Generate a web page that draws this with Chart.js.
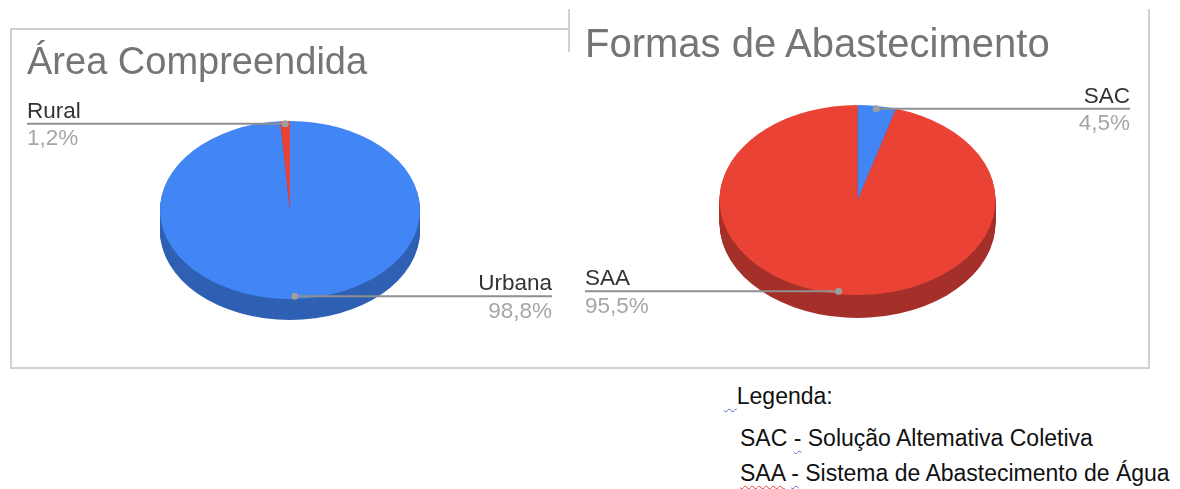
<!DOCTYPE html>
<html lang="pt-BR">
<head>
<meta charset="utf-8">
<script src="https://cdn.jsdelivr.net/npm/chart.js"></script>
<style>
  body { margin: 0; background: #fff; font-family: "Liberation Sans", Arial, sans-serif; }
  #page { position: relative; width: 1180px; height: 489px; overflow: hidden; }
  .box { position: absolute; border: 2px solid #d2d2d2; box-sizing: border-box; }
  canvas { position: absolute; }
  .title { position: absolute; color: #757575; white-space: nowrap; line-height: 1; }
  .leg { position: absolute; left: 738px; font-size: 23px; line-height: 23px; color: #111; white-space: nowrap; }
  .sq-red { text-decoration: underline wavy #e53935; text-decoration-thickness: 1px; text-underline-offset: 4px; }
  .sq-blue { text-decoration: underline wavy #5c6bc0; text-decoration-thickness: 1px; text-underline-offset: 4px; }
</style>
</head>
<body>
<div id="page">
  <div class="box" style="left:568px; top:9px; width:582px; height:360px; border-top:0;"></div>
  <div class="box" style="left:10px; top:28px; width:562px; height:341px; background:#fff;"></div>
  <div style="position:absolute; left:568px; top:30px; width:2px; height:22px; background:#d2d2d2;"></div>
  <div style="position:absolute; left:570px; top:9px; width:576px; height:358px; background:#fff;"></div>
  <canvas id="areaChart" width="559" height="338" style="left:11px; top:29px;"></canvas>
  <canvas id="abastChart" width="578" height="358" style="left:570px; top:9px;"></canvas>
  <div class="title" style="left:27px; top:42px; font-size:38px;">Área Compreendida</div>
  <div class="title" style="left:585px; top:23px; font-size:40px;">Formas de Abastecimento</div>
  <div class="leg" style="top:385px;"><span class="sq-blue" style="margin-left:-14px;">&nbsp;&nbsp;</span>Legenda:</div>
  <div class="leg" style="top:427px; left:740px;">SAC <span class="sq-blue">-</span> Solução Altemativa Coletiva</div>
  <div class="leg" style="top:462px; left:740px;"><span class="sq-red">SAA</span> <span class="sq-blue">-</span> Sistema de Abastecimento de Água</div>
</div>
<script>
// dados
const areaLabels = ['Urbana', 'Rural'];
const areaValues = [98.8, 1.2];
const abastLabels = ['SAC', 'SAA'];
const abastValues = [4.5, 95.5];

const topColors = ['#4285F4', '#EA4335'];
const sideColors = ['#2F60B3', '#A5302A'];

Chart.defaults.font.family = '"Liberation Sans", Arial, sans-serif';

// pizza "3D": achata o circulo e desenha a lateral mais escura
const pie3d = {
    id: 'pie3d',
    beforeDatasetsDraw(chart, args, opts) {
        const ctx = chart.ctx;
        const arcs = chart.getDatasetMeta(0).data;
        const { x, y, outerRadius } = arcs[0];
        const k = opts.tilt;
        ctx.save();
        ctx.translate(0, y);
        ctx.scale(1, k);
        ctx.translate(0, -y);
        for (let d = opts.depth; d > 0; d--) {
            arcs.forEach((arc, i) => {
                ctx.beginPath();
                ctx.moveTo(x, y + d / k);
                ctx.arc(x, y + d / k, outerRadius, arc.startAngle, arc.endAngle);
                ctx.closePath();
                ctx.fillStyle = sideColors[i];
                ctx.fill();
            });
        }
    },
    afterDatasetsDraw(chart, args, opts) {
        const ctx = chart.ctx;
        ctx.restore();
        const ds = chart.data.datasets[0];
        const total = ds.data.reduce((a, b) => a + b, 0);
        const arcs = chart.getDatasetMeta(0).data;
        arcs.forEach((arc, i) => {
            const mid = (arc.startAngle + arc.endAngle) / 2;
            const r = arc.outerRadius * 0.97;
            const px = arc.x + Math.cos(mid) * r;
            const py = arc.y + Math.sin(mid) * r * opts.tilt;
            const right = Math.cos(mid) > 0;
            const ex = right ? opts.rightEdge : opts.leftEdge;

            ctx.strokeStyle = '#8f8f8f';
            ctx.lineWidth = 2;
            ctx.beginPath();
            ctx.moveTo(px, py);
            ctx.lineTo(ex, py);
            ctx.stroke();

            ctx.fillStyle = '#9e9e9e';
            ctx.beginPath();
            ctx.arc(px, py, 3.5, 0, Math.PI * 2);
            ctx.fill();

            ctx.font = '22.5px "Liberation Sans", Arial, sans-serif';
            ctx.textAlign = right ? 'right' : 'left';
            ctx.textBaseline = 'alphabetic';
            ctx.fillStyle = '#333333';
            ctx.fillText(chart.data.labels[i], ex, py - 6);
            ctx.textBaseline = 'top';
            ctx.fillStyle = '#a6a6a6';
            const pct = (ds.data[i] / total * 100).toFixed(1).replace('.', ',') + '%';
            ctx.fillText(pct, ex, py + 4);
        });
    }
};

const makePie = (id, labels, values, padding, plug) => {
    new Chart(document.getElementById(id), {
        type: 'pie',
        data: {
            labels: labels,
            datasets: [{
                data: values,
                backgroundColor: topColors,
                borderWidth: 0,
                hoverOffset: 0
            }]
        },
        options: {
            responsive: false,
            animation: false,
            events: [],
            layout: { padding: padding },
            plugins: {
                legend: { display: false },
                tooltip: { enabled: false },
                pie3d: plug
            }
        },
        plugins: [pie3d]
    });
};

makePie('areaChart', areaLabels, areaValues,
    { top: 51, bottom: 27, left: 19, right: 20 },
    { tilt: 0.685, depth: 21, leftEdge: 16, rightEdge: 541 });

makePie('abastChart', abastLabels, abastValues,
    { top: 53, bottom: 29, left: 17.5, right: 20.5 },
    { tilt: 0.688, depth: 23, leftEdge: 15, rightEdge: 560 });
</script>
</body>
</html>
